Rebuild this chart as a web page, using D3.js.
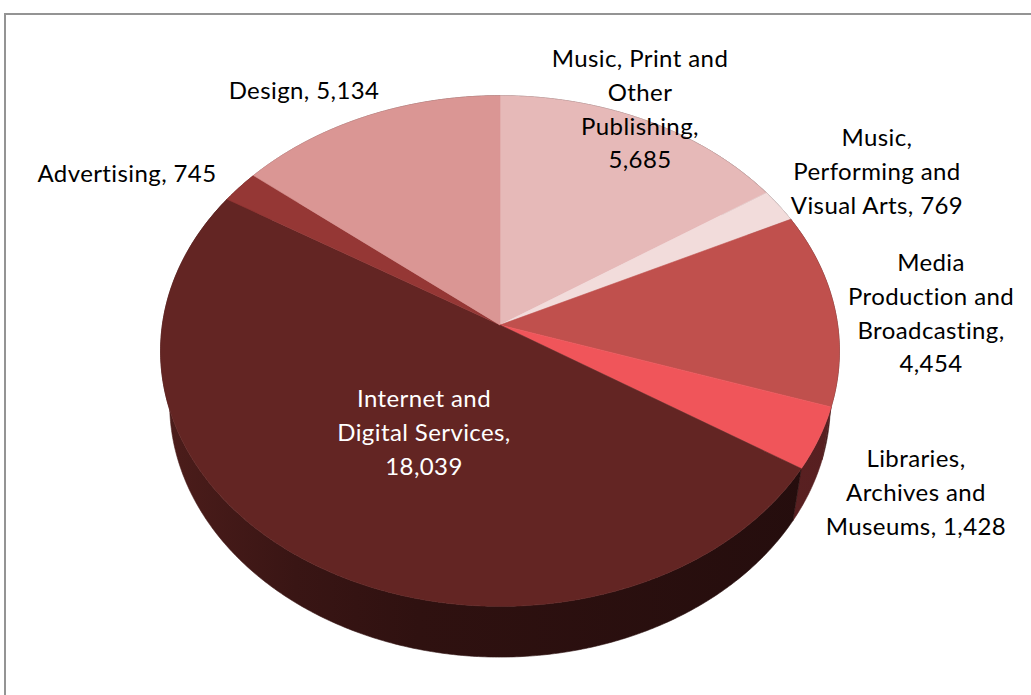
<!DOCTYPE html>
<html>
<head>
<meta charset="utf-8">
<script src="https://cdn.jsdelivr.net/npm/d3@7"></script>
<style>
  html, body { margin: 0; padding: 0; background: #ffffff; }
  svg { display: block; }
  text { font-family: Lato, "Open Sans", sans-serif; }
</style>
</head>
<body>
<svg id="chart" width="1031" height="695"></svg>
<script>
// Creative industries employment by sector
const categories = [
  "Music, Print and Other Publishing",
  "Music, Performing and Visual Arts",
  "Media Production and Broadcasting",
  "Libraries, Archives and Museums",
  "Internet and Digital Services",
  "Advertising",
  "Design"
];
const values = [5685, 769, 4454, 1428, 18039, 745, 5134];
const labelLines = [
  ["Music, Print and", "Other", "Publishing,", "5,685"],
  ["Music,", "Performing and", "Visual Arts, 769"],
  ["Media", "Production and", "Broadcasting,", "4,454"],
  ["Libraries,", "Archives and", "Museums, 1,428"],
  ["Internet and", "Digital Services,", "18,039"],
  ["Advertising, 745"],
  ["Design, 5,134"]
];
const sliceColors = ["#E6B9B8", "#F2DCDB", "#C0504D", "#F0555A", "#632523", "#953735", "#DA9694"];

// label block layout: centre x, first baseline y, text colour
const labelLayout = [
  { x: 640, y: 67,  fill: "#000" },
  { x: 877, y: 146, fill: "#000" },
  { x: 931, y: 271, fill: "#000" },
  { x: 916, y: 467, fill: "#000" },
  { x: 424, y: 407, fill: "#fff" },
  { x: 127, y: 182, fill: "#000" },
  { x: 304, y: 99,  fill: "#000" }
];

const svg = d3.select("#chart");
const W = 1031, H = 695;

// chart frame
svg.append("rect")
  .attr("x", 5).attr("y", 14)
  .attr("width", W + 20).attr("height", H + 20)
  .attr("fill", "none")
  .attr("stroke", "#949494")
  .attr("stroke-width", 2);

// 3D perspective projection of a disk lying in a tilted plane
const phi = 48 * Math.PI / 180;
const sinP = Math.sin(phi), cosP = Math.cos(phi);
const camDist = 6.57, focal = 2234;
const cx = 500, cy = 325;
const thickness = 0.24;
const squeezeX = 0.993;

function project(theta, r, h) {
  const x = r * Math.sin(theta);
  const z = r * Math.cos(theta);
  const up = h * cosP + z * sinP;
  const dep = camDist + z * cosP - h * sinP;
  return [cx + squeezeX * focal * x / dep, cy - focal * up / dep];
}

function arcPoints(a0, a1, h) {
  const n = Math.max(2, Math.ceil(Math.abs(a1 - a0) / (Math.PI / 180 * 0.5)));
  const pts = [];
  for (let i = 0; i <= n; i++) {
    const t = a0 + (a1 - a0) * i / n;
    pts.push(project(t, 1, h));
  }
  return pts;
}

const arcs = d3.pie().sort(null).value(d => d)(values);
const line = d3.line();

function scaleColor(c, k) {
  const rgb = d3.rgb(c);
  return d3.rgb(rgb.r * k, rgb.g * k, rgb.b * k).formatHex();
}

// side shading: lit from the left, falling off to the right
const defs = svg.append("defs");
const shadeStops = [[0, 0.78], [0.2, 0.58], [0.38, 0.47], [1, 0.36]];
arcs.forEach((a, i) => {
  const g = defs.append("linearGradient")
    .attr("id", "wall" + i)
    .attr("gradientUnits", "userSpaceOnUse")
    .attr("x1", 160).attr("y1", 0).attr("x2", 840).attr("y2", 0);
  shadeStops.forEach(([o, k]) => {
    g.append("stop").attr("offset", o).attr("stop-color", scaleColor(sliceColors[i], k));
  });
});

// outer walls, far ones first
const wallOrder = arcs.map((a, i) => i)
  .sort((p, q) => Math.cos((arcs[q].startAngle + arcs[q].endAngle) / 2) -
                  Math.cos((arcs[p].startAngle + arcs[p].endAngle) / 2));

svg.append("g").selectAll("path")
  .data(wallOrder)
  .join("path")
  .attr("d", i => {
    const a = arcs[i];
    const top = arcPoints(a.startAngle, a.endAngle, 0);
    const bot = arcPoints(a.endAngle, a.startAngle, -thickness);
    return line(top.concat(bot)) + "Z";
  })
  .attr("fill", i => `url(#wall${i})`)
  .attr("stroke", i => `url(#wall${i})`)
  .attr("stroke-width", 0.6);

// top faces
svg.append("g").selectAll("path")
  .data(arcs)
  .join("path")
  .attr("d", a => {
    const pts = [project(0, 0, 0)].concat(arcPoints(a.startAngle, a.endAngle, 0));
    return line(pts) + "Z";
  })
  .attr("fill", (a, i) => sliceColors[i])
  .attr("stroke", (a, i) => sliceColors[i])
  .attr("stroke-width", 0.6)
  .attr("stroke-linejoin", "round");

// data labels
const lineHeight = 33.8;
const labels = svg.append("g").selectAll("text")
  .data(labelLines)
  .join("text")
  .attr("text-anchor", "middle")
  .attr("font-size", 24)
  .attr("letter-spacing", 0.4)
  .attr("fill", (d, i) => labelLayout[i].fill)
  .attr("x", (d, i) => labelLayout[i].x)
  .attr("y", (d, i) => labelLayout[i].y);

labels.each(function (lines, i) {
  d3.select(this).selectAll("tspan")
    .data(lines)
    .join("tspan")
    .attr("x", labelLayout[i].x)
    .attr("dy", (t, j) => j === 0 ? 0 : lineHeight)
    .text(t => t);
});
</script>
</body>
</html>
